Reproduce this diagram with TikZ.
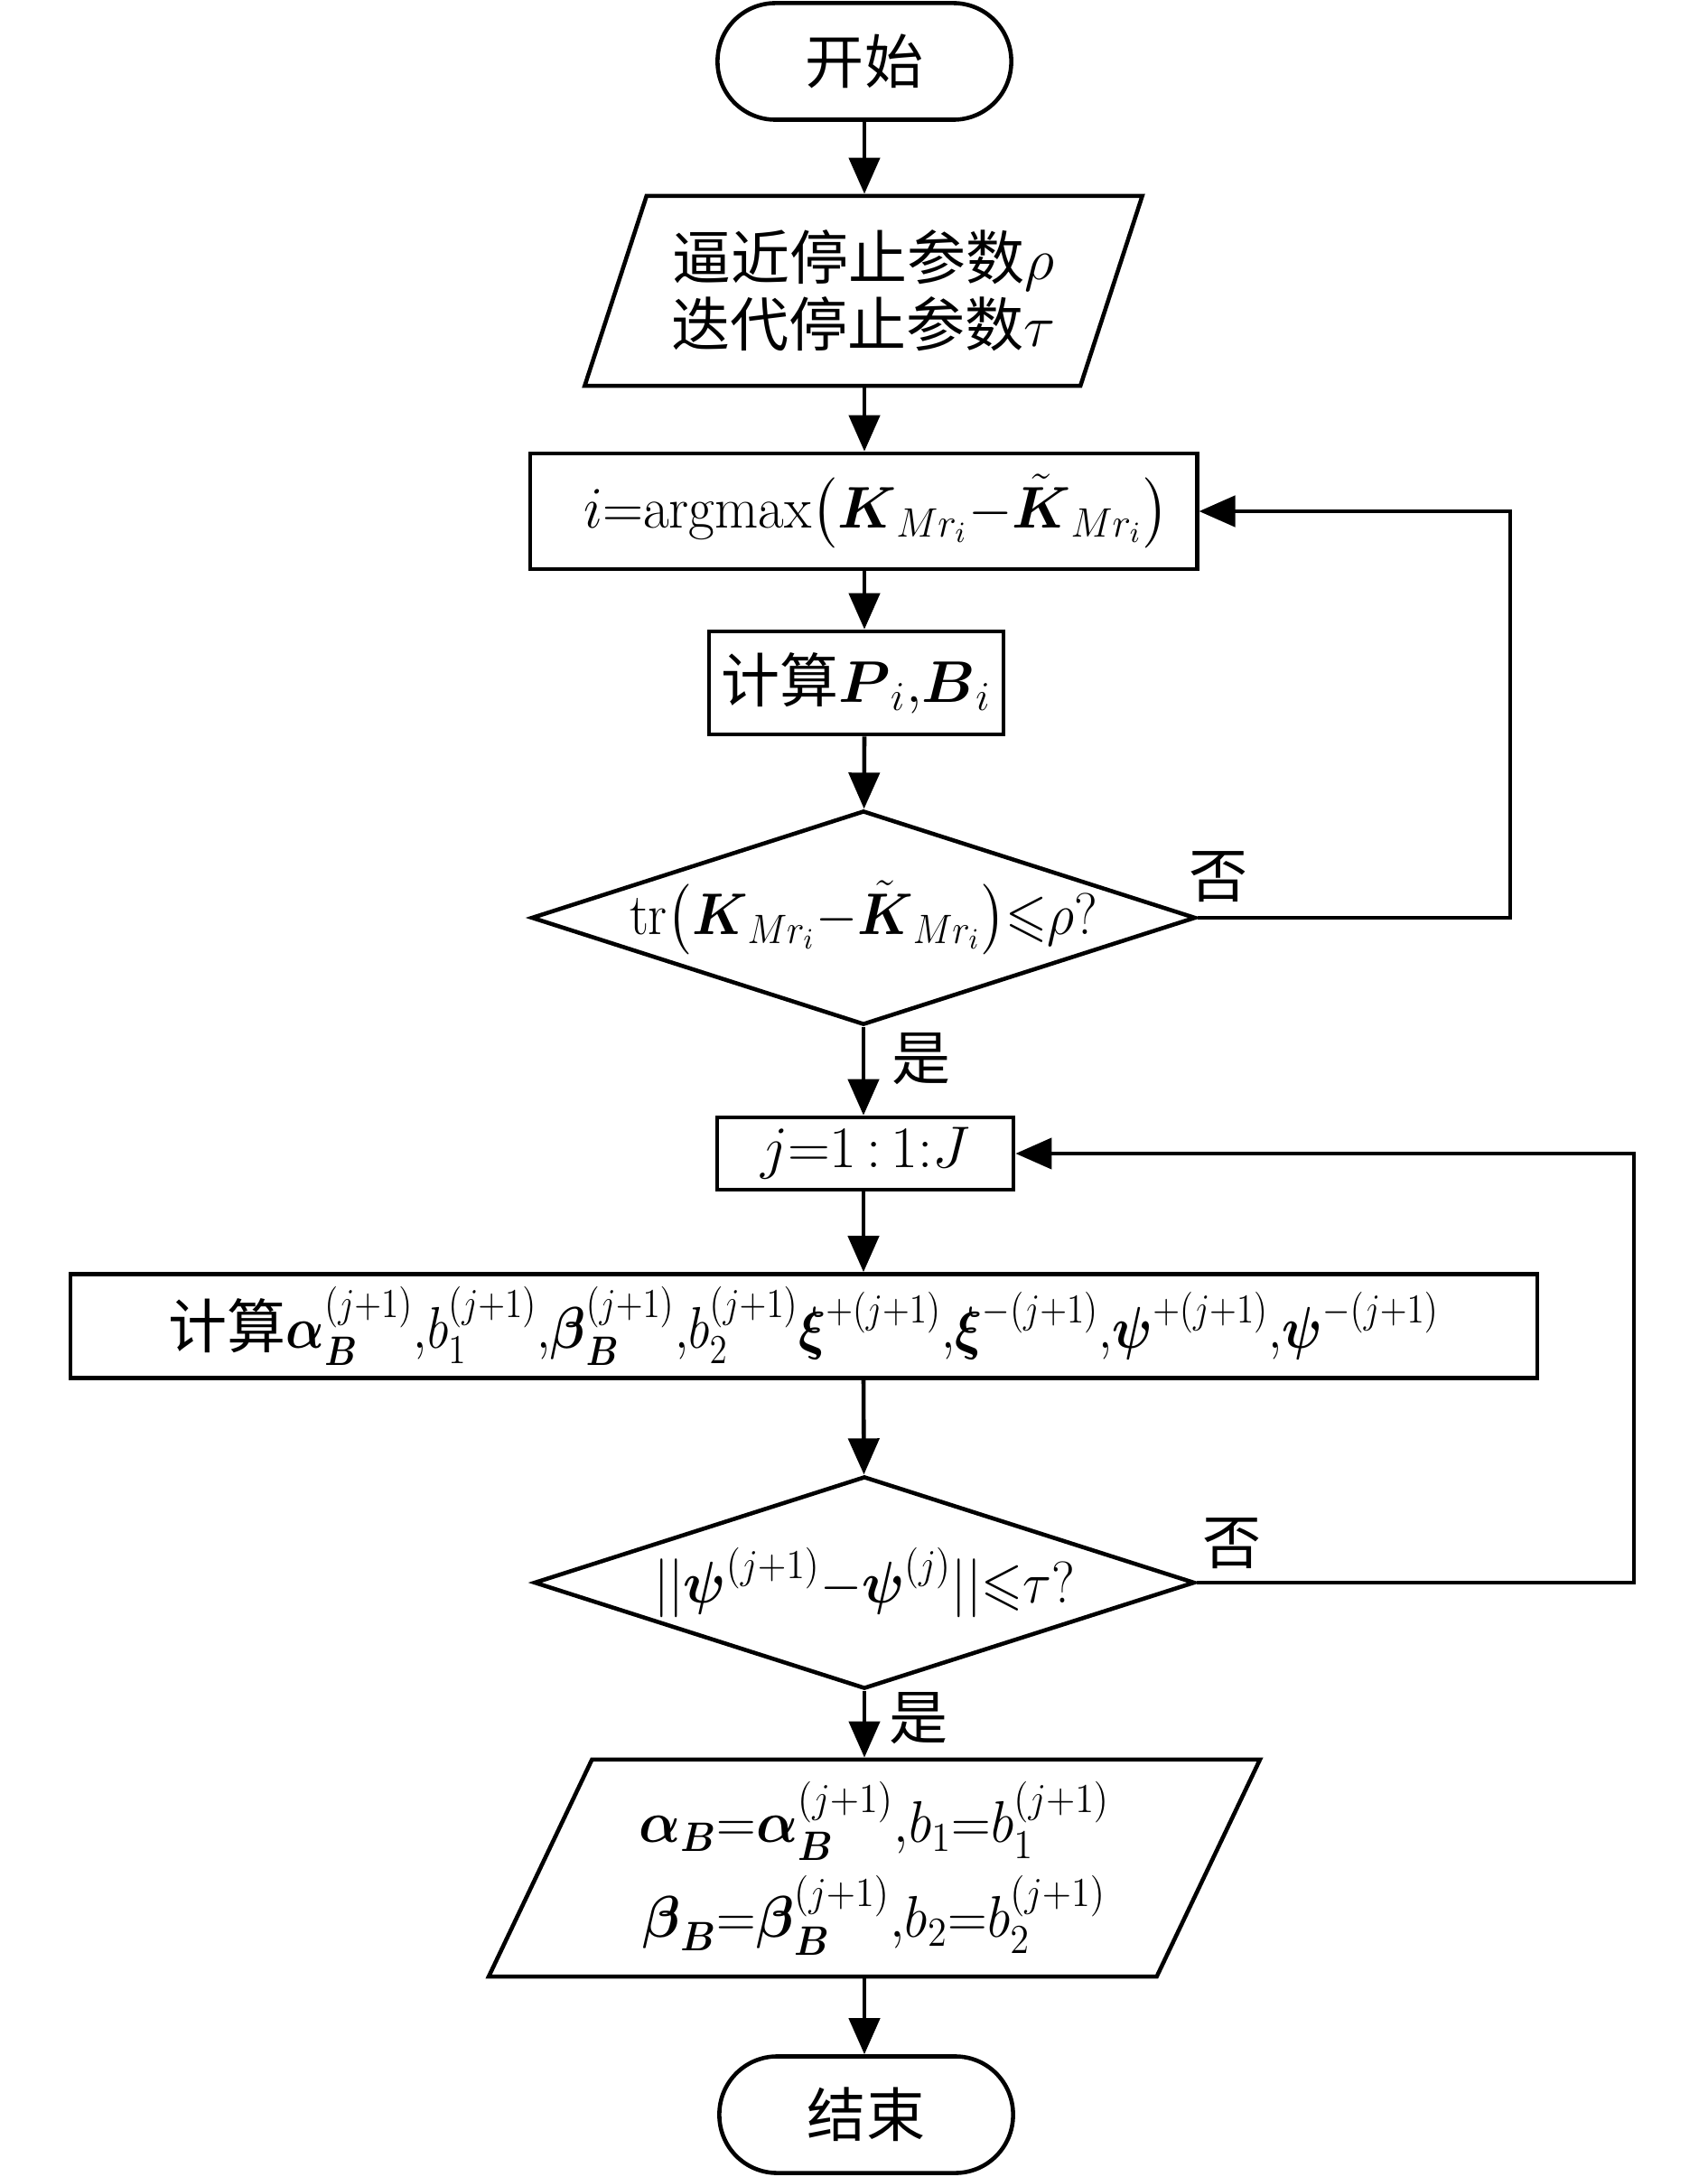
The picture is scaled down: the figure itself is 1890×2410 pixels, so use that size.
\RequirePackage{fix-cm}
\documentclass[tikz,border=0pt]{standalone}
\usepackage{amsmath}
\usepackage{amssymb}
\usepackage{fontspec}
\newfontfamily\cjk{Noto Sans CJK SC}
\usepackage{tikz}
\usetikzlibrary{arrows.meta,shapes.geometric}

% condensed math, as in the figure
\newcommand{\narrow}[2]{\scalebox{#1}[1]{#2}}

\tikzset{
  terminal/.style={draw, rectangle, rounded corners=6.4mm, minimum width=3.25cm, minimum height=1.29cm},
  process/.style={draw, rectangle, inner sep=0pt},
  decision/.style={draw, diamond, aspect=3.1, inner sep=-2pt},
  io/.style={draw, trapezium, trapezium stretches=true, inner sep=0pt},
  arr/.style={-{Triangle[length=4mm,width=3.4mm]}},
}

\begin{document}
\begin{tikzpicture}[x=0.01cm, y=-0.01cm, line width=1.3pt,
    font=\fontsize{18.5pt}{23pt}\selectfont]
        \useasboundingbox (0,0) rectangle (1890,2410);

        \node[terminal] (start) at (957, 68) {\cjk 开始};
        \node[io, minimum width=6.18cm, minimum height=2.1cm,
          trapezium left angle=65.7, trapezium right angle=114.3, align=center]
          (params) at (956, 322) {{\cjk 逼近停止参数}$\rho$\\[-2pt]{\cjk 迭代停止参数}$\tau$};

        \node[process, minimum width=7.38cm, minimum height=1.28cm] (select) at (956, 566)
          {\hspace{8pt}\narrow{0.96}{$i{=}\mathrm{argmax}\bigl(\boldsymbol{K}_{Mr_i}{-}\tilde{\boldsymbol{K}}_{Mr_i}\bigr)$}};
        \node[process, minimum width=3.26cm, minimum height=1.14cm] (calcPB) at (948, 756)
          {{\cjk 计算}$\boldsymbol{P}_i{,}\boldsymbol{B}_i$};
        \node[decision, minimum width=7.35cm, minimum height=2.37cm] (approx) at (956, 1016)
          {\narrow{0.91}{$\mathrm{tr}\bigl(\boldsymbol{K}_{Mr_i}{-}\tilde{\boldsymbol{K}}_{Mr_i}\bigr){\leqslant}\rho?$}};

        \node[process, minimum width=3.28cm, minimum height=0.80cm] (loopj) at (958, 1277)
          {$j{=}1\,{:}\,1{:}J$};
        \node[process, minimum width=16.23cm, minimum height=1.15cm] (update) at (890, 1468)
          {{\cjk 计算}\narrow{0.86}{$\boldsymbol{\alpha}_{\boldsymbol{B}}^{(j+1)}{,}b_1^{(j+1)}{,}\boldsymbol{\beta}_{\boldsymbol{B}}^{(j+1)}{,}b_2^{(j+1)}\boldsymbol{\xi}^{+(j+1)}{,}\boldsymbol{\xi}^{-(j+1)}{,}\boldsymbol{\psi}^{+(j+1)}{,}\boldsymbol{\psi}^{-(j+1)}$}};
        \node[decision, minimum width=7.31cm, minimum height=2.35cm] (conv) at (957, 1752)
          {\narrow{0.91}{$||\boldsymbol{\psi}^{(j+1)}{-}\boldsymbol{\psi}^{(j)}||{\leqslant}\tau?$}};

        \node[io, minimum width=8.55cm, minimum height=2.4cm,
          trapezium left angle=63.6, trapezium right angle=116.4, align=center]
          (result) at (968, 2068)
          {\narrow{0.93}{$\boldsymbol{\alpha}_{\boldsymbol{B}}{=}\boldsymbol{\alpha}_{\boldsymbol{B}}^{(j+1)}{,}b_1{=}b_1^{(j+1)}$}\\[4pt]
           \narrow{0.93}{$\boldsymbol{\beta}_{\boldsymbol{B}}{=}\boldsymbol{\beta}_{\boldsymbol{B}}^{(j+1)}{,}b_2{=}b_2^{(j+1)}$}};
        \node[terminal] (stop) at (959, 2341) {\cjk 结束};

        \node (no1) at (1349, 971) {\cjk 否};
        \node (yes1) at (1020, 1172) {\cjk 是};
        \node (no2) at (1364, 1709) {\cjk 否};
        \node (yes2) at (1017, 1902) {\cjk 是};

        \coordinate (back1) at (1672, 0);
        \coordinate (back2) at (1809, 0);

        \draw[arr] (start) -- (start |- params.north);
        \draw[arr] (params.south -| start) -- (start |- select.north);
        \draw[arr] (start |- select.south) -- (start |- calcPB.north);
        \draw[arr] (start |- calcPB.south) -- (approx);
        \draw[arr] (approx) -- (approx |- loopj.north);
        \draw[arr] (approx |- loopj.south) -- (approx |- update.north);
        \draw[arr] (approx |- update.south) -- (conv);
        \draw[arr] (conv) -- (conv |- result.north);
        \draw[arr] (conv |- result.south) -- (conv |- stop.north);

        \draw[arr] (approx.east) -- (approx.east -| back1) |- (select.east);
        \draw[arr] (conv.east) -- (conv.east -| back2) |- (loopj.east);
\end{tikzpicture}
\end{document}
